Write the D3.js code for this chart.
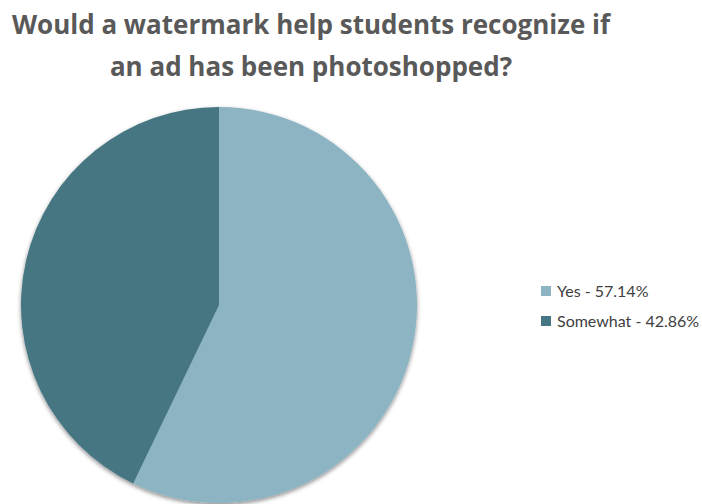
<!DOCTYPE html>
<html>
<head>
<meta charset="utf-8">
<script src="https://cdn.jsdelivr.net/npm/d3@7"></script>
<style>
  body { margin: 0; background: #fff; }
  svg { display: block; }
</style>
</head>
<body>
<div id="chart"></div>
<script>
const categories = ["Yes", "Somewhat"];
const values = [57.14, 42.86];
const colors = ["#8cb4c3", "#467683"];
const titleLines = ["Would a watermark help students recognize if", "an ad has been photoshopped?"];

const width = 702, height = 504;
const svg = d3.select("#chart").append("svg")
    .attr("width", width)
    .attr("height", height);

const defs = svg.append("defs");
const shadow = defs.append("filter")
    .attr("id", "shadow")
    .attr("x", "-10%").attr("y", "-10%")
    .attr("width", "120%").attr("height", "120%");
shadow.append("feDropShadow")
    .attr("dx", 0).attr("dy", 2)
    .attr("stdDeviation", 2)
    .attr("flood-color", "#000")
    .attr("flood-opacity", 0.45);

// Title
svg.append("g").selectAll("text")
    .data(titleLines)
    .enter()
    .append("text")
    .attr("x", 311)
    .attr("y", (d, i) => 34 + i * 42)
    .attr("text-anchor", "middle")
    .attr("font-family", "'Open Sans', Lato, sans-serif")
    .attr("font-weight", "bold")
    .attr("font-size", 26)
    .attr("fill", "#595959")
    .text(d => d);

// Pie
const radius = 198;
const pie = d3.pie().sort(null).value(d => d.value);
const arc = d3.arc().innerRadius(0).outerRadius(radius);
const data = categories.map((c, i) => ({ name: c, value: values[i] }));

const g = svg.append("g")
    .attr("transform", `translate(219, 305)`)
    .attr("filter", "url(#shadow)");

g.selectAll("path")
    .data(pie(data))
    .enter()
    .append("path")
    .attr("d", arc)
    .attr("fill", (d, i) => colors[i]);

// Legend
const legend = svg.append("g")
    .attr("transform", "translate(541, 286)");

const items = legend.selectAll("g")
    .data(data)
    .enter()
    .append("g")
    .attr("transform", (d, i) => `translate(0, ${i * 30})`);

items.append("rect")
    .attr("width", 10)
    .attr("height", 10)
    .attr("fill", (d, i) => colors[i]);

items.append("text")
    .attr("x", 16)
    .attr("y", 11)
    .attr("font-family", "Lato, 'Open Sans', sans-serif")
    .attr("font-size", 16)
    .attr("fill", "#404040")
    .text(d => `${d.name} - ${d.value.toFixed(2)}%`);
</script>
</body>
</html>
